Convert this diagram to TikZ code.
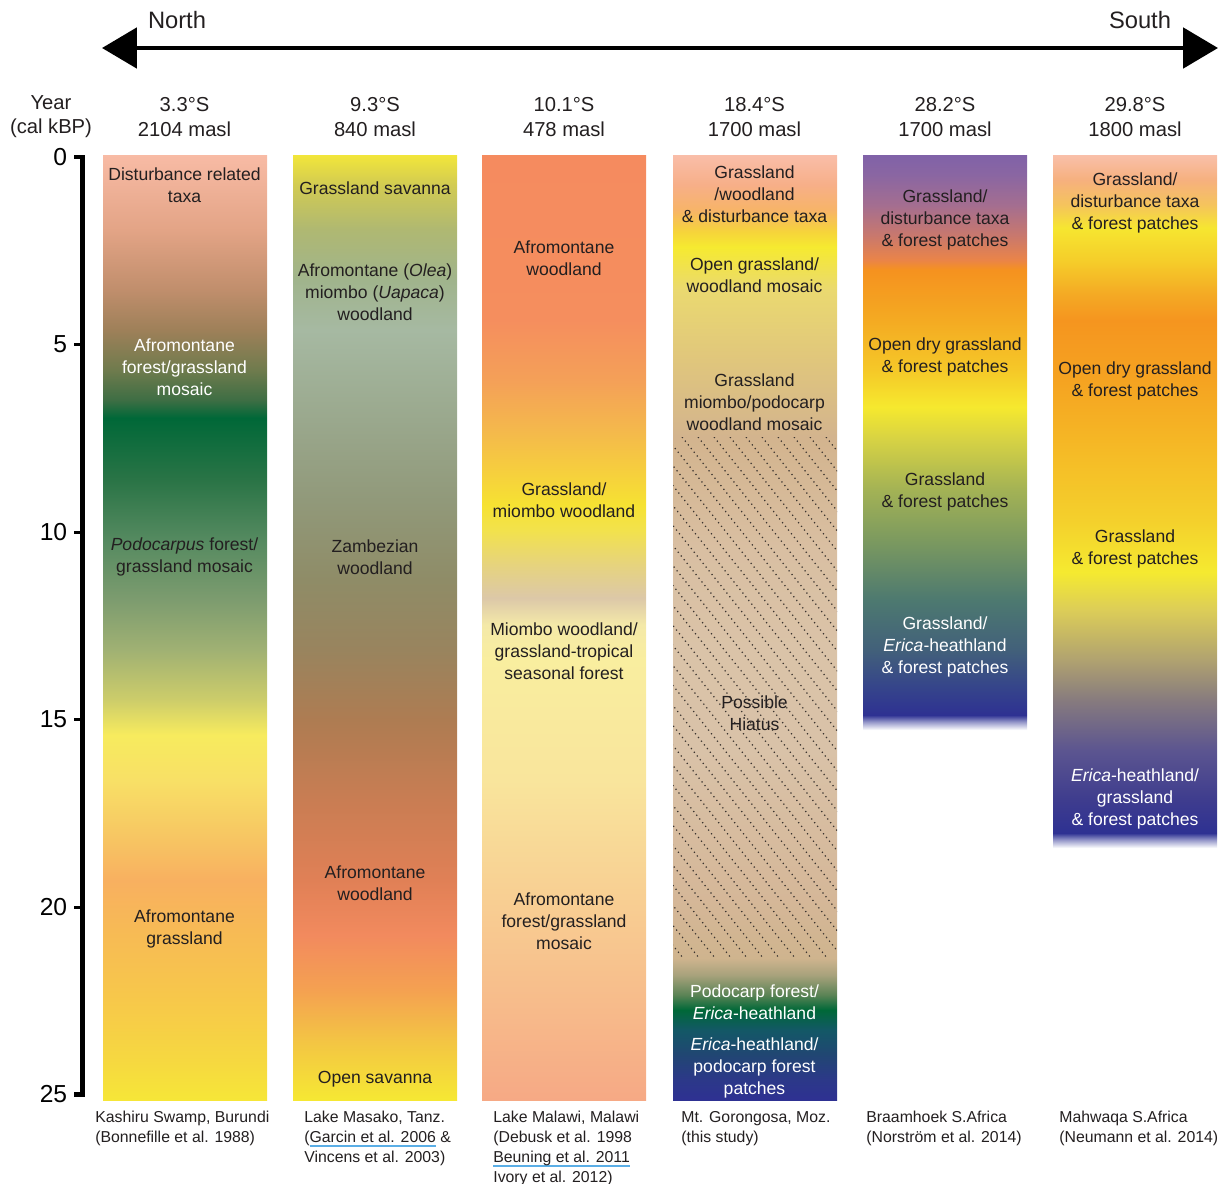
\documentclass[tikz,border=0pt]{standalone}
\usepackage{fontspec}
\setmainfont{Liberation Sans}
\usetikzlibrary{arrows.meta}
\definecolor{ink}{HTML}{231F20}
\definecolor{linkblue}{HTML}{5AAEE6}
\definecolor{hatchdot}{HTML}{3C3530}
\tikzset{
  veg/.style={font=\fontsize{10}{12.5}\selectfont, align=center, text=ink, inner sep=0pt},
  head/.style={font=\fontsize{11.5}{13.8}\selectfont, align=center, text=ink, inner sep=0pt},
  yr/.style={font=\fontsize{14}{16}\selectfont, anchor=east, text=black, inner sep=0pt},
  src/.style={font=\fontsize{9}{11.3}\selectfont, align=left, anchor=north west, text=ink, inner sep=0pt},
  dir/.style={font=\fontsize{13.5}{16}\selectfont, text=ink, inner sep=0pt},
  biarrow/.style={{Triangle[length=19.8pt, width=22.7pt]}-{Triangle[length=19.8pt, width=22.7pt]}, line width=2.8pt},
  axisline/.style={line width=2.3pt},
  ticks/.style={line width=1.7pt},
  hatchline/.style={draw=hatchdot, line width=0.7pt, dash pattern=on 0.7pt off 2pt},
}
% underline in light blue, as in the source list
\newsavebox\linkbox
\newcommand\linkul[1]{\sbox\linkbox{#1}\rlap{\textcolor{linkblue}{\rule[-2.4pt]{\wd\linkbox}{0.9pt}}}\usebox\linkbox}
% column shading: name, top y, bottom y, stops y/hex from top to bottom
\newcommand\stoplist{}
\newcommand\lastcol{}
\newcommand\declarecolumn[4]{%
  \gdef\stoplist{}%
  \foreach \sy/\sc [count=\idx] in {#4} {%
    \pgfmathsetmacro\stoppos{75-(\sy-#2)/(#3-#2)*50}%
    \xglobal\definecolor{#1\idx}{HTML}{\sc}%
    \ifnum\idx=1 \xdef\stoplist{color(\stoppos bp)=(#1\idx); color(100bp)=(#1\idx)}%
    \else \xdef\stoplist{color(\stoppos bp)=(#1\idx); \stoplist}\fi
    \xdef\lastcol{#1\idx}%
  }%
  \edef\tmp{\noexpand\pgfdeclareverticalshading{#1}{100bp}{color(0bp)=(\lastcol); \stoplist}}\tmp
}
\declarecolumn{kas}{155}{1100}{155/F8BBA5, 230/E3A486, 290/C08E6C, 330/9E8059, 370/6F7B4D, 400/3E6E44, 418/006838, 480/2A7446, 540/558A60, 600/7D9C6F, 650/A0B173, 700/CDCD6A, 735/F7EB5E, 780/F8E066, 830/F7C963, 880/F8B060, 930/F7BA55, 1000/F7C84A, 1060/F6D840, 1100/F6E638}
\declarecolumn{mas}{155}{1100}{155/F2E63A, 185/D2CB52, 230/AFB872, 280/A0B48C, 330/A6B9A2, 420/9AA88D, 500/91997A, 580/8F8C67, 650/99845E, 720/AE7C52, 800/C97D53, 880/E08056, 935/F28A5E, 990/F4A151, 1040/F3C444, 1100/F6E833}
\declarecolumn{mal}{155}{1100}{155/F58B5F, 320/F58E5E, 380/F4A058, 430/F4B84C, 470/F6CE3E, 505/F6E232, 530/F2E24C, 565/E6D37E, 598/DCC8A8, 625/F4E9A8, 660/F9EE9F, 780/F9E59C, 880/F8D294, 1000/F7BC8B, 1100/F6A985}
\declarecolumn{gor}{155}{1100}{155/F9BEA9, 185/F7AF88, 210/F7B468, 232/F6D43A, 247/F6EA30, 290/EAD970, 360/E0C67C, 437/D3B48E, 550/D9BFA2, 650/DAC3A8, 750/D9C2A8, 900/D5B798, 958/CFB48E, 975/A8A27C, 995/5A8355, 1010/006838, 1030/135866, 1055/214673, 1080/2C3889, 1100/2E3192}
\declarecolumn{bra}{155}{730}{155/8062A8, 175/8A66A2, 205/A46E90, 235/C8786E, 260/EA8448, 270/F5921F, 320/F4AA22, 370/F5C828, 407/F6E92E, 440/D6D244, 490/A3B255, 540/7C9A5F, 600/4D7970, 650/42607A, 685/36468A, 715/2E3192, 722/9799CA, 730/FFFFFF}
\declarecolumn{mah}{155}{848}{155/F9C0AA, 180/F6B07E, 205/F5C45C, 228/F6E630, 260/F5CE2A, 295/F4A924, 320/F5951F, 380/F5A321, 450/F5BA26, 520/F4D02C, 572/F5EA30, 610/DCCD58, 660/B0A270, 700/877B7E, 750/5C5590, 800/3E3C8E, 833/2E3192, 840/9799CA, 848/FFFFFF}

\begin{document}
\begin{tikzpicture}[x=0.02cm, y=-0.02cm]
  \useasboundingbox (0,0) rectangle (1226,1183);
  % north-south arrow
  \coordinate (nend) at (102,48);
  \coordinate (send) at (1218,48);
  \draw[biarrow] (nend) -- (send);
  \node[dir] (north) at (177,20) {North};
  \node[dir] (south) at (1140,20) {South};
  % columns
  \foreach \n/\xl/\yb in {kas/103/1100, mas/293/1100, mal/482/1100, gor/673/1100, bra/863/730, mah/1053/848}
    \shade[shading=\n] (\xl,155) rectangle (\xl+164,\yb);
  \begin{scope}
    \clip (673,437) rectangle (837,958);
    \foreach \hx in {250,266,...,840} \draw[hatchline] (\hx,437) -- ++(417,521);
  \end{scope}
  % time axis
  \draw[axisline] (74,157) -- (82.5,157) -- (82.5,1094.5) -- (74,1094.5);
  \foreach \d in {5,10,15,20} \draw[ticks] (74,{157+37.5*\d}) -- (82.5,{157+37.5*\d});
  \foreach \d in {0,5,...,25} \node[yr] (y\d) at (67.5,{157+37.5*\d}) {\d};
  \node[head] (year) at (51,117) {Year\\(cal kBP)};
  \foreach \n/\x/\lat/\alt in {kas/184.5/3.3/2104, mas/375/9.3/840, mal/564/10.1/478, gor/754.5/18.4/1700, bra/945/28.2/1700, mah/1135/29.8/1800}
    \node[head] (h\n) at (\x,117) {\lat°S\\\alt\ masl};
  % vegetation labels
  \foreach \n/\x/\y/\tc/\txt in {
    kas1/184.5/185/ink/{Disturbance related\\taxa},
    kas2/184.5/367/white/{Afromontane\\forest/grassland\\mosaic},
    kas3/184.5/557/ink/{\textit{Podocarpus} forest/\\grassland mosaic},
    kas4/184.5/929/ink/{Afromontane\\grassland},
    mas1/375/188/ink/{Grassland savanna},
    mas2/375/292/ink/{Afromontane (\textit{Olea})\\miombo (\textit{Uapaca})\\woodland},
    mas3/375/557/ink/{Zambezian\\woodland},
    mas4/375/883/ink/{Afromontane\\woodland},
    mas5/375/1079/ink/{Open savanna},
    mal1/564/258/ink/{Afromontane\\woodland},
    mal2/564/500/ink/{Grassland/\\miombo woodland},
    mal3/564/651/ink/{Miombo woodland/\\grassland-tropical\\seasonal forest},
    mal4/564/921/ink/{Afromontane\\forest/grassland\\mosaic},
    gor1/754.5/194/ink/{Grassland\\/woodland\\\& disturbance taxa},
    gor2/754.5/275/ink/{Open grassland/\\woodland mosaic},
    gor3/754.5/402/ink/{Grassland\\miombo/podocarp\\woodland mosaic},
    gor4/754.5/713/ink/{Possible\\Hiatus},
    gor5/754.5/1002/white/{Podocarp forest/\\\textit{Erica}-heathland},
    gor6/754.5/1068/white/{\textit{Erica}-heathland/\\podocarp forest\\patches},
    bra1/945/220/ink/{Grassland/\\disturbance taxa\\\& forest patches},
    bra2/945/357/ink/{Open dry grassland\\\& forest patches},
    bra3/945/492/ink/{Grassland\\\& forest patches},
    bra4/945/647/white/{Grassland/\\\textit{Erica}-heathland\\\& forest patches},
    mah1/1135/203/ink/{Grassland/\\disturbance taxa\\\& forest patches},
    mah2/1135/381/ink/{Open dry grassland\\\& forest patches},
    mah3/1135/549/ink/{Grassland\\\& forest patches},
    mah4/1135/799/white/{\textit{Erica}-heathland/\\grassland\\\& forest patches}}
    \node[veg, text=\tc] (\n) at (\x,\y) {\txt};
  % site and source labels
  \foreach \n/\x/\txt in {
    kas/95/{Kashiru Swamp, Burundi\\(Bonnefille et al. 1988)},
    mas/304/{Lake Masako, Tanz.\\(\linkul{Garcin et al. 2006} \&\\Vincens et al. 2003)},
    mal/493/{Lake Malawi, Malawi\\(Debusk et al. 1998\\\linkul{Beuning et al. 2011}\\Ivory et al. 2012)},
    gor/681/{Mt. Gorongosa, Moz.\\(this study)},
    bra/866/{Braamhoek S.Africa\\(Norström et al. 2014)},
    mah/1059/{Mahwaqa S.Africa\\(Neumann et al. 2014)}}
    \node[src] (s\n) at (\x,1111) {\txt};
\end{tikzpicture}
\end{document}
